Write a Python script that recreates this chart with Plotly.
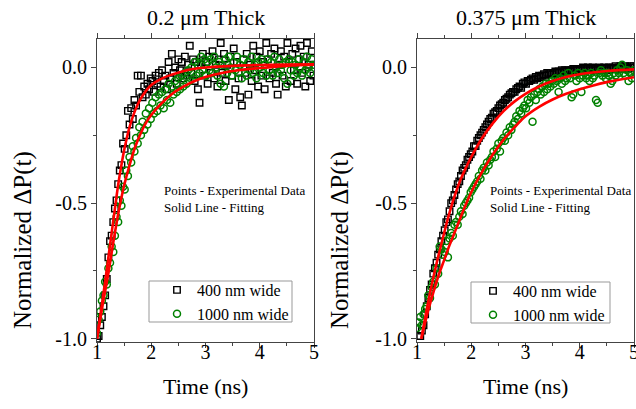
import plotly.graph_objects as go

W, H = 636, 409

# ---------------- data ----------------
t_grid = [1.00,1.03,1.06,1.09,1.12,1.15,1.18,1.21,1.24,1.27,
          1.30,1.33,1.36,1.39,1.42,1.45,1.48,1.51,1.54,1.57,
          1.60,1.63,1.66,1.69,1.72,1.75,1.78,1.81,1.84,1.87,
          1.90,1.93,1.96,1.99,2.02,2.05,2.08,2.11,2.14,2.17,
          2.20,2.23,2.26,2.29,2.32,2.35,2.38,2.41,2.44,2.47,
          2.50,2.53,2.56,2.59,2.62,2.65,2.68,2.71,2.74,2.77,
          2.80,2.83,2.86,2.89,2.92,2.95,2.98,3.01,3.04,3.07,
          3.10,3.13,3.16,3.19,3.22,3.25,3.28,3.31,3.34,3.37,
          3.40,3.43,3.46,3.49,3.52,3.55,3.58,3.61,3.64,3.67,
          3.70,3.73,3.76,3.79,3.82,3.85,3.88,3.91,3.94,3.97,
          4.00,4.03,4.06,4.09,4.12,4.15,4.18,4.21,4.24,4.27,
          4.30,4.33,4.36,4.39,4.42,4.45,4.48,4.51,4.54,4.57,
          4.60,4.63,4.66,4.69,4.72,4.75,4.78,4.81,4.84,4.87,
          4.90,4.93,4.96,4.99]

# 0.2 um thick
thin_400 = [-1.00,-0.99,-0.95,-0.92,-0.88,-0.84,-0.78,-0.70,-0.64,-0.62,
            -0.57,-0.52,-0.49,-0.43,-0.38,-0.36,-0.28,-0.30,-0.25,-0.16,
            -0.21,-0.15,-0.19,-0.12,-0.14,-0.03,-0.09,-0.03,-0.11,-0.07,
            -0.10,-0.06,-0.08,-0.04,-0.05,-0.09,-0.03,-0.06,-0.02,-0.07,
            -0.01,-0.05,-0.03,-0.08,0.02,-0.04,0.05,-0.02,0.00,-0.06,
            0.03,-0.01,0.02,-0.04,0.04,-0.03,0.01,0.08,-0.02,0.03,
            -0.05,0.02,-0.08,-0.13,0.01,0.05,-0.03,0.02,-0.06,0.04,
            -0.02,0.06,-0.04,0.01,-0.07,0.03,0.09,-0.02,0.05,-0.05,
            0.01,-0.12,0.04,-0.03,0.07,-0.08,0.02,-0.04,-0.11,-0.14,
            0.03,-0.02,0.05,-0.10,0.01,-0.05,0.08,-0.01,0.04,-0.07,
            0.06,-0.03,0.02,-0.08,0.09,0.03,-0.04,0.05,-0.02,0.07,
            -0.06,-0.10,0.01,0.06,-0.03,0.04,-0.07,0.09,0.02,-0.05,
            0.05,-0.01,0.07,-0.06,0.03,0.08,-0.02,0.04,-0.07,0.09,
            0.01,-0.05,0.06,-0.03]
thin_1000 = [-0.98,-0.93,-0.90,-0.86,-0.84,-0.79,-0.80,-0.74,-0.72,-0.66,
             -0.68,-0.62,-0.55,-0.57,-0.49,-0.51,-0.44,-0.45,-0.38,-0.40,
             -0.33,-0.35,-0.29,-0.31,-0.26,-0.28,-0.22,-0.25,-0.20,-0.23,
             -0.17,-0.21,-0.15,-0.19,-0.13,-0.17,-0.11,-0.16,-0.10,-0.14,
             -0.09,-0.15,-0.08,-0.12,-0.06,-0.13,-0.07,-0.10,-0.05,-0.09,
             -0.04,-0.08,-0.03,-0.07,-0.02,-0.06,-0.01,-0.05,0.00,-0.04,
             0.02,-0.03,0.01,-0.02,0.04,-0.01,0.03,-0.03,0.02,-0.01,
             0.03,-0.02,0.04,0.00,-0.03,0.02,-0.06,0.01,-0.07,0.03,
             -0.02,0.04,0.00,-0.03,0.02,-0.01,0.04,-0.02,0.01,-0.04,
             0.03,0.00,-0.03,0.02,-0.01,0.04,-0.02,0.01,-0.04,0.02,
             0.00,0.03,-0.02,0.01,-0.03,0.03,-0.01,0.02,-0.03,0.04,
             0.00,-0.02,0.03,-0.01,0.01,-0.04,0.02,-0.06,0.03,-0.01,
             0.02,-0.03,0.01,-0.02,0.03,0.00,-0.03,0.02,-0.01,0.04,
             0.00,-0.02,0.03,0.01]

# 0.375 um thick
thick_400 = [None,None,-0.99,-0.97,-0.95,-0.91,-0.88,-0.85,-0.82,-0.80,
             -0.76,-0.74,-0.72,-0.69,-0.67,-0.64,-0.62,-0.60,-0.57,-0.56,
             -0.53,-0.50,-0.49,-0.47,-0.45,-0.43,-0.42,-0.40,-0.38,-0.37,
             -0.36,-0.34,-0.33,-0.32,-0.31,-0.29,-0.29,-0.27,-0.26,-0.25,
             -0.24,-0.23,-0.22,-0.21,-0.20,-0.19,-0.185,-0.17,-0.165,-0.16,
             -0.15,-0.14,-0.135,-0.13,-0.12,-0.115,-0.11,-0.10,-0.095,-0.09,
             -0.09,-0.08,-0.075,-0.07,-0.075,-0.06,-0.055,-0.06,-0.05,-0.05,
             -0.045,-0.04,-0.045,-0.035,-0.04,-0.03,-0.035,-0.03,-0.025,-0.03,
             -0.02,-0.025,-0.02,-0.025,-0.02,-0.015,-0.02,-0.015,-0.02,-0.01,
             -0.015,-0.01,-0.015,-0.01,-0.015,-0.01,-0.005,-0.01,-0.005,-0.01,
             -0.005,-0.01,0.0,-0.005,-0.01,0.0,-0.005,-0.01,0.0,-0.005,
             -0.01,-0.005,0.0,-0.01,-0.005,0.0,-0.005,-0.01,0.0,-0.005,
             0.0,-0.005,0.005,-0.005,0.0,0.005,-0.005,0.0,0.005,0.0,
             -0.005,0.005,0.0,0.005]
thick_1000 = [-0.96,-0.94,-0.92,-0.95,-0.91,-0.89,-0.88,-0.84,-0.85,-0.81,
              -0.79,-0.80,-0.74,-0.76,-0.66,-0.67,-0.69,-0.68,-0.64,-0.70,
              -0.63,-0.61,-0.62,-0.58,-0.57,-0.58,-0.55,-0.53,-0.54,-0.51,
              -0.50,-0.49,-0.48,-0.46,-0.45,-0.44,-0.43,-0.42,-0.40,-0.41,
              -0.38,-0.37,-0.38,-0.35,-0.36,-0.34,-0.33,-0.31,-0.33,-0.30,
              -0.28,-0.31,-0.27,-0.26,-0.27,-0.24,-0.25,-0.22,-0.23,-0.21,
              -0.20,-0.18,-0.19,-0.16,-0.17,-0.15,-0.14,-0.15,-0.12,-0.13,
              -0.11,-0.20,-0.10,-0.12,-0.09,-0.08,-0.10,-0.07,-0.09,-0.06,
              -0.08,-0.06,-0.07,-0.05,-0.06,-0.04,-0.05,-0.09,-0.04,-0.06,
              -0.03,-0.05,-0.04,-0.02,-0.04,-0.11,-0.10,-0.03,-0.05,-0.02,
              -0.04,-0.09,-0.03,-0.02,-0.04,-0.03,-0.05,-0.02,-0.04,-0.03,
              -0.12,-0.13,-0.02,-0.01,-0.03,-0.02,-0.04,-0.02,-0.03,-0.06,
              -0.05,-0.02,-0.03,-0.01,-0.02,0.00,0.01,-0.02,-0.03,-0.01,
              -0.05,-0.02,-0.04,-0.01]

# fitted curves
fit_thin_400_t = [1.0,1.05,1.1,1.15,1.2,1.25,1.3,1.35,1.4,1.45,1.5,1.55,1.6,1.7,1.8,1.9,2.0,2.2,2.4,2.6,2.8,3.0,3.5,4.0,4.5,5.0]
fit_thin_400_v = [-1.0,-0.93,-0.86,-0.79,-0.715,-0.64,-0.565,-0.49,-0.42,-0.36,-0.305,-0.26,-0.22,-0.16,-0.117,-0.087,-0.065,-0.04,-0.025,-0.013,-0.005,0.0,0.006,0.009,0.011,0.012]
fit_thin_1000_t = [1.0,1.05,1.1,1.2,1.3,1.4,1.5,1.6,1.7,1.8,1.9,2.0,2.2,2.4,2.6,2.8,3.0,3.3,3.6,4.0,4.5,5.0]
fit_thin_1000_v = [-1.0,-0.94,-0.88,-0.77,-0.645,-0.53,-0.435,-0.36,-0.295,-0.245,-0.205,-0.175,-0.13,-0.095,-0.07,-0.05,-0.035,-0.02,-0.01,-0.002,0.006,0.01]
fit_thick_400_t = [1.08,1.2,1.3,1.4,1.5,1.6,1.7,1.8,1.9,2.0,2.2,2.4,2.6,2.8,3.0,3.25,3.5,3.75,4.0,4.5,5.0]
fit_thick_400_v = [-1.0,-0.87,-0.775,-0.69,-0.61,-0.535,-0.47,-0.415,-0.37,-0.33,-0.26,-0.205,-0.16,-0.125,-0.097,-0.07,-0.05,-0.035,-0.025,-0.013,-0.007]
fit_thick_1000_t = [1.08,1.2,1.3,1.4,1.5,1.6,1.7,1.8,1.9,2.0,2.2,2.4,2.6,2.8,3.0,3.25,3.5,3.75,4.0,4.25,4.5,4.75,5.0]
fit_thick_1000_v = [-1.0,-0.90,-0.83,-0.765,-0.71,-0.655,-0.605,-0.555,-0.505,-0.46,-0.385,-0.32,-0.265,-0.22,-0.18,-0.145,-0.118,-0.097,-0.08,-0.066,-0.054,-0.044,-0.036]

x_ticks = [1, 2, 3, 4, 5]
x_ticktext = ["1", "2", "3", "4", "5"]
y_ticks = [-1.0, -0.5, 0.0]
y_ticktext = ["-1.0", "-0.5", "0.0"]
titles = ["0.2 \u03bcm Thick", "0.375 \u03bcm Thick"]
series_names = ["400 nm wide", "1000 nm wide"]

# ---------------- styling ----------------
FONT = "Liberation Serif"
AX = "#444444"
GREEN = "#008000"
RED = "#ff0000"

fig = go.Figure()

def add_panel(n, v400, v1000, f4t, f4v, f10t, f10v):
    xa = "x" if n == 1 else "x2"
    ya = "y" if n == 1 else "y2"
    lg = "legend" if n == 1 else "legend2"
    fig.add_trace(go.Scatter(x=t_grid, y=v400, mode="markers", name=series_names[0],
                             xaxis=xa, yaxis=ya, legend=lg,
                             marker=dict(symbol="square-open", size=6.5, color="black",
                                         line=dict(width=1.4, color="black"))))
    fig.add_trace(go.Scatter(x=t_grid, y=v1000, mode="markers", name=series_names[1],
                             xaxis=xa, yaxis=ya, legend=lg,
                             marker=dict(symbol="circle-open", size=7, color=GREEN,
                                         line=dict(width=1.5, color=GREEN))))
    for ft, fv in ((f4t, f4v), (f10t, f10v)):
        fig.add_trace(go.Scatter(x=ft, y=fv, mode="lines", showlegend=False,
                                 xaxis=xa, yaxis=ya,
                                 line=dict(color=RED, width=2.6, shape="spline")))

add_panel(1, thin_400, thin_1000, fit_thin_400_t, fit_thin_400_v, fit_thin_1000_t, fit_thin_1000_v)
add_panel(2, thick_400, thick_1000, fit_thick_400_t, fit_thick_400_v, fit_thick_1000_t, fit_thick_1000_v)

ydom = [(H - 342) / H, (H - 39) / H]
xdom1 = [97 / W, 314 / W]
xdom2 = [417 / W, 634 / W]

def xaxis(dom, anchor):
    return dict(domain=dom, anchor=anchor, range=[1, 5], showgrid=False, zeroline=False,
                automargin=False, ticklabeloverflow="allow", ticklabelstandoff=-13,
                showline=True, linecolor=AX, linewidth=1, mirror="ticks",
                ticks="outside", ticklen=5, tickwidth=1, tickcolor=AX,
                tickmode="array", tickvals=x_ticks, ticktext=x_ticktext,
                minor=dict(tickmode="array", tickvals=[1.5, 2.5, 3.5, 4.5], ticks="outside",
                           ticklen=3, tickcolor=AX),
                tickfont=dict(family=FONT, size=20, color="black"))

def yaxis(anchor):
    return dict(domain=ydom, anchor=anchor, range=[-1.012, 0.105], showgrid=False, zeroline=False,
                automargin=False,
                showline=True, linecolor=AX, linewidth=1, mirror=True,
                ticks="outside", ticklen=5, tickwidth=1, tickcolor=AX,
                tickmode="array", tickvals=y_ticks, ticktext=y_ticktext,
                minor=dict(tickmode="array", tickvals=[-0.75, -0.25], ticks="outside",
                           ticklen=3, tickcolor=AX),
                tickfont=dict(family=FONT, size=20, color="black"))

legend_common = dict(xanchor="left", yanchor="top", borderwidth=0,
                     bgcolor="rgba(0,0,0,0)", font=dict(family=FONT, size=16, color="black"),
                     tracegroupgap=0)

# legend frames
shapes = [
    dict(type="rect", xref="paper", yref="paper", x0=149 / W, x1=292 / W,
         y0=(H - 322) / H, y1=(H - 281) / H, line=dict(color="#999999", width=1),
         fillcolor="white", layer="above"),
    dict(type="rect", xref="paper", yref="paper", x0=471 / W, x1=610 / W,
         y0=(H - 323) / H, y1=(H - 282) / H, line=dict(color="#999999", width=1),
         fillcolor="white", layer="above"),
]

fig.update_layout(
    width=W, height=H, margin=dict(l=0, r=0, t=0, b=0, autoexpand=False),
    paper_bgcolor="white", plot_bgcolor="white",
    xaxis=xaxis(xdom1, "y"), yaxis=yaxis("x"),
    xaxis2=xaxis(xdom2, "y2"), yaxis2=yaxis("x2"),
    legend=dict(x=157 / W, y=(H - 273) / H, **legend_common),
    legend2=dict(x=473 / W, y=(H - 274) / H, **legend_common),
    showlegend=True, shapes=shapes,
)

ann = []
for cx, title, ytx, note_x in ((205.5, titles[0], 23, 162), (525.5, titles[1], 340, 488)):
    ann.append(dict(text=title, x=cx / W, y=(H - 17) / H, xref="paper", yref="paper",
                    showarrow=False, xanchor="center", yanchor="middle",
                    font=dict(family=FONT, size=22, color="black")))
    ann.append(dict(text="Time (ns)", x=cx / W, y=(H - 386) / H, xref="paper", yref="paper",
                    showarrow=False, xanchor="center", yanchor="middle",
                    font=dict(family=FONT, size=22, color="black")))
    ann.append(dict(text="Normalized \u0394P(t)", x=ytx / W, y=(H - 240) / H, xref="paper",
                    yref="paper", showarrow=False, textangle=-90, xanchor="center",
                    yanchor="middle", font=dict(family=FONT, size=25, color="black")))
    ann.append(dict(text="Points - Experimental Data<br>Solid Line - Fitting", x=note_x / W,
                    y=(H - 199) / H, xref="paper", yref="paper", showarrow=False,
                    xanchor="left", yanchor="middle", align="left",
                    font=dict(family=FONT, size=13, color="black")))
fig.update_layout(annotations=ann)

fig.write_html("out.html", config={"displayModeBar": False},
               post_script="document.body.style.margin='0';document.body.style.overflow='hidden';")
